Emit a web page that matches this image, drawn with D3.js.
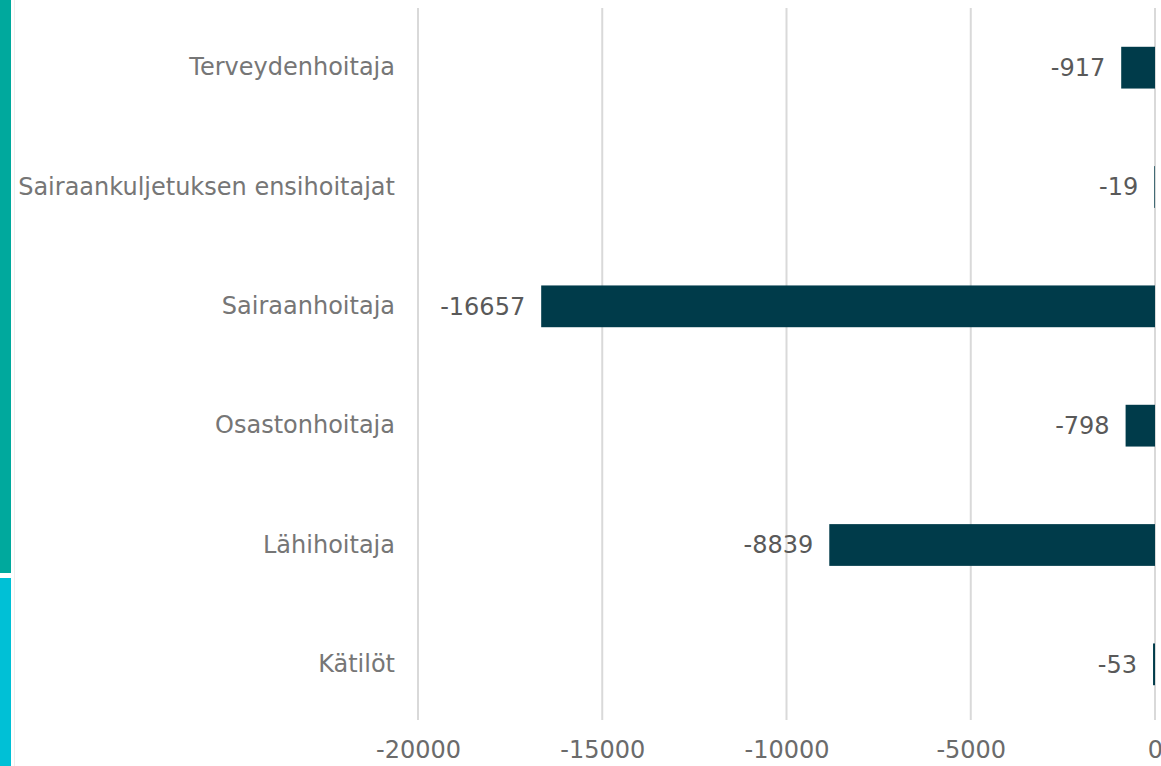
<!DOCTYPE html>
<html lang="fi">
<head>
<meta charset="utf-8">
<script src="https://cdn.jsdelivr.net/npm/d3@7"></script>
<style>
  body { margin: 0; background: #fff; }
  svg { display: block; }
  text { font-family: "DejaVu Sans", Verdana, sans-serif; }
</style>
</head>
<body>
<div id="chart"></div>
<script>
// ammattiryhmät ja muutos
var categories = ["Terveydenhoitaja", "Sairaankuljetuksen ensihoitajat", "Sairaanhoitaja", "Osastonhoitaja", "Lähihoitaja", "Kätilöt"];
var values = [-917, -19, -16657, -798, -8839, -53];
var tickValues = [-20000, -15000, -10000, -5000, 0];

var width = 1161, height = 766;
var fontSize = 24;

var svg = d3.select("#chart").append("svg")
    .attr("width", width)
    .attr("height", height);

// left side colour strips
svg.append("rect").attr("x", 0).attr("y", 0).attr("width", 11).attr("height", 573).attr("fill", "#00a99d");
svg.append("rect").attr("x", 0).attr("y", 578).attr("width", 11).attr("height", 188).attr("fill", "#00c0d6");
svg.append("line").attr("x1", 14.5).attr("x2", 14.5).attr("y1", 0).attr("y2", height)
    .attr("stroke", "#eeeeee").attr("stroke-width", 1);

var x = d3.scaleLinear()
    .domain([-20000, 0])
    .range([418, 1155]);

var y = d3.scaleBand()
    .domain(categories)
    .range([8, 724])
    .paddingInner(0.65)
    .paddingOuter(0.325);

// gridlines
svg.append("g")
  .selectAll("line")
  .data(tickValues)
  .join("line")
    .attr("x1", d => x(d)).attr("x2", d => x(d))
    .attr("y1", 8).attr("y2", 720)
    .attr("stroke", "#d9d9d9")
    .attr("stroke-width", 2);

// x axis labels
var xAxis = d3.axisBottom(x).tickValues(tickValues).tickSize(0).tickPadding(0)
    .tickFormat(d => String(d));
var gx = svg.append("g").attr("transform", "translate(0,741)").call(xAxis);
gx.select(".domain").remove();
gx.selectAll("text")
    .attr("dy", "0.71em")
    .attr("font-size", fontSize)
    .attr("fill", "#6b6b6b")
    .style("font-family", "'DejaVu Sans', Verdana, sans-serif");

// y axis labels
var yAxis = d3.axisLeft(y).tickSize(0).tickPadding(0);
var gy = svg.append("g").attr("transform", "translate(395,0)").call(yAxis);
gy.select(".domain").remove();
gy.selectAll("text")
    .attr("font-size", fontSize)
    .attr("fill", "#767676")
    .style("font-family", "'DejaVu Sans', Verdana, sans-serif");

// bars
svg.append("g")
  .selectAll("rect")
  .data(values)
  .join("rect")
    .attr("x", d => x(d))
    .attr("y", (d, i) => y(categories[i]))
    .attr("width", d => x(0) - x(d))
    .attr("height", y.bandwidth())
    .attr("fill", "#003b4a");

// value labels
svg.append("g")
  .selectAll("text")
  .data(values)
  .join("text")
    .attr("x", d => x(d) - 16)
    .attr("y", (d, i) => y(categories[i]) + y.bandwidth() / 2)
    .attr("dy", "0.35em")
    .attr("text-anchor", "end")
    .attr("font-size", fontSize)
    .attr("fill", "#595959")
    .text(d => d);
</script>
</body>
</html>
